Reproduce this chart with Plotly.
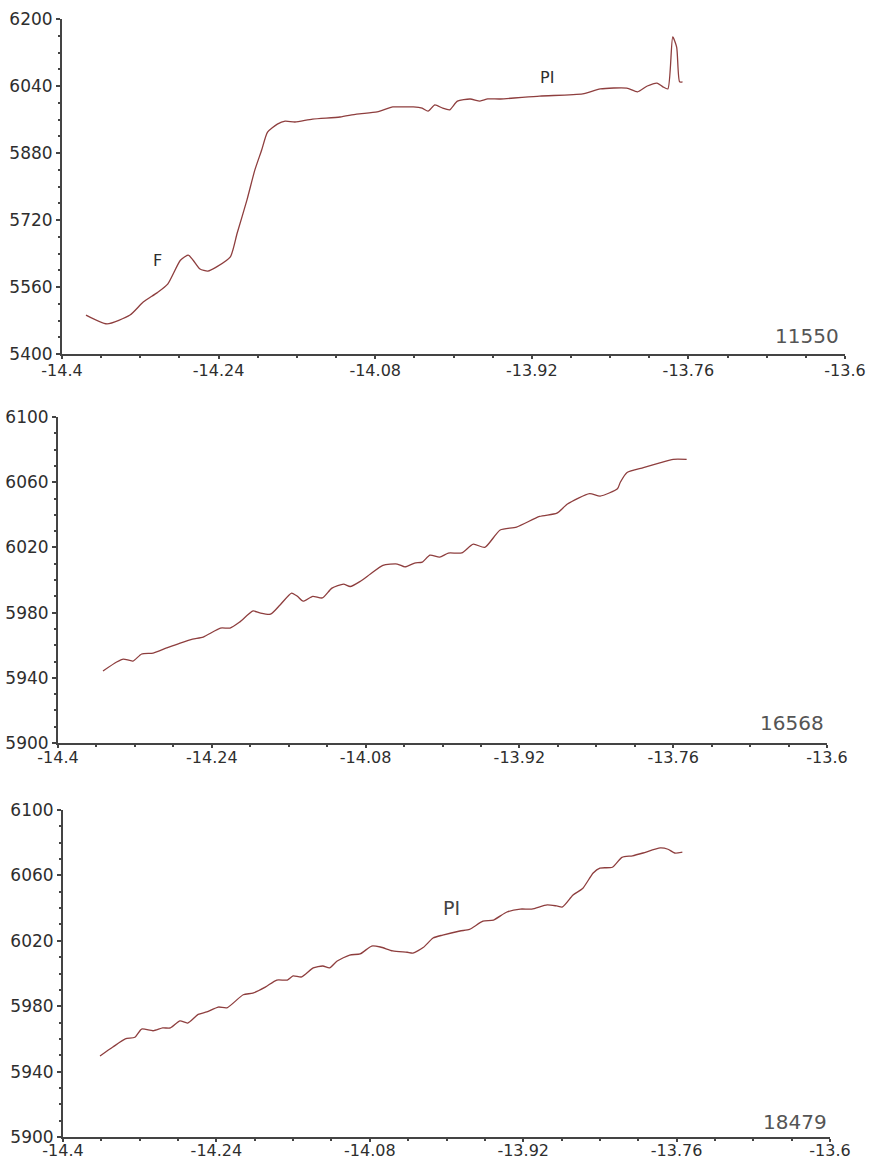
import plotly.graph_objects as go

# ---- data: panel 1 (11550) ----
x1 = [-14.3755, -14.354, -14.3305, -14.317, -14.303, -14.292, -14.279, -14.271, -14.266,
      -14.259, -14.251, -14.242, -14.228, -14.221, -14.211, -14.203, -14.196, -14.190,
      -14.180, -14.172, -14.162, -14.144, -14.116, -14.099, -14.078, -14.062, -14.052,
      -14.041, -14.032, -14.026, -14.019, -14.011, -14.004, -13.996, -13.983, -13.973,
      -13.965, -13.952, -13.912, -13.868, -13.850, -13.823, -13.812, -13.802, -13.792,
      -13.786, -13.781, -13.776, -13.772, -13.769, -13.766]
y1 = [5493, 5472, 5493, 5524, 5546, 5567, 5624, 5636, 5624,
      5603, 5598, 5608, 5632, 5689, 5768, 5839, 5887, 5930,
      5949, 5956, 5954, 5961, 5966, 5973, 5978, 5990, 5990,
      5990, 5987, 5980, 5995, 5987, 5983, 6004, 6009, 6004,
      6009, 6009, 6016, 6021, 6033, 6035, 6026, 6040, 6047,
      6038, 6033, 6157, 6133, 6050, 6050]

# ---- data: panel 2 (16568) ----
x2 = [-14.3532, -14.339, -14.332, -14.322, -14.313, -14.301, -14.287, -14.273, -14.260,
      -14.249, -14.231, -14.221, -14.211, -14.197, -14.190, -14.179, -14.169, -14.157,
      -14.151, -14.145, -14.135, -14.125, -14.115, -14.103, -14.096, -14.086, -14.075,
      -14.062, -14.047, -14.039, -14.029, -14.021, -14.013, -14.003, -13.994, -13.980,
      -13.968, -13.956, -13.940, -13.923, -13.899, -13.881, -13.870, -13.847, -13.836,
      -13.818, -13.815, -13.808, -13.791, -13.773, -13.760, -13.746]
y2 = [5944.2, 5949.7, 5951.5, 5950.3, 5954.6, 5955.2, 5958.3, 5961.3, 5963.8,
      5965.0, 5970.5, 5970.5, 5974.2, 5981.0, 5979.8, 5979.0, 5984.7, 5992.0,
      5990.0, 5987.0, 5990.0, 5989.0, 5995.0, 5997.5, 5996.0, 5999.0, 6003.7,
      6009.0, 6009.8, 6008.0, 6010.4, 6011.0, 6015.3, 6014.0, 6016.5, 6016.6,
      6022.0, 6020.0, 6030.7, 6032.5, 6039.0, 6041.0, 6046.6, 6053.0, 6051.5,
      6056.0, 6060.0, 6066.0, 6069.0, 6072.0, 6074.0, 6074.0]

# ---- data: panel 3 (18479) ----
x3 = [-14.3614, -14.348, -14.335, -14.325, -14.318, -14.306, -14.296, -14.288, -14.278,
      -14.270, -14.259, -14.250, -14.238, -14.229, -14.212, -14.202, -14.189, -14.177,
      -14.166, -14.160, -14.151, -14.139, -14.129, -14.122, -14.114, -14.101, -14.090,
      -14.078, -14.069, -14.056, -14.041, -14.035, -14.024, -14.014, -14.004, -13.986,
      -13.976, -13.962, -13.951, -13.937, -13.923, -13.911, -13.895, -13.885, -13.879,
      -13.868, -13.858, -13.847, -13.840, -13.827, -13.817, -13.806, -13.795, -13.777,
      -13.769, -13.762, -13.754]
y3 = [5949.5, 5955.0, 5960.0, 5961.0, 5966.0, 5965.0, 5966.7, 5966.7, 5971.0,
      5969.7, 5975.0, 5976.5, 5979.5, 5979.0, 5987.0, 5988.0, 5991.7, 5996.0,
      5996.0, 5998.5, 5997.9, 6003.4, 6004.6, 6003.4, 6007.6, 6011.3, 6012.0,
      6016.8, 6016.2, 6013.8, 6013.0, 6012.5, 6016.0, 6021.7, 6023.5, 6026.0,
      6027.0, 6032.0, 6032.7, 6037.6, 6039.4, 6039.4, 6042.0, 6041.3, 6040.7,
      6048.0, 6052.0, 6061.5, 6064.5, 6065.0, 6071.0, 6072.0, 6073.7, 6076.8,
      6076.0, 6073.7, 6074.3]

x_ticks = [-14.4, -14.24, -14.08, -13.92, -13.76, -13.6]
x_ticktext = ["-14.4", "-14.24", "-14.08", "-13.92", "-13.76", "-13.6"]
y_ticks_top = [5400, 5560, 5720, 5880, 6040, 6200]
y_ticks_low = [5900, 5940, 5980, 6020, 6060, 6100]
sample_ids = ["11550", "16568", "18479"]

LINE = "#8e3e3e"
AX = "#444444"
TXT = "#2e2e2e"
FONT = "DejaVu Sans"

fig = go.Figure()
for xs, ys, xa, ya in [(x1, y1, "x", "y"), (x2, y2, "x2", "y2"), (x3, y3, "x3", "y3")]:
    fig.add_trace(go.Scatter(x=xs, y=ys, mode="lines",
                             line=dict(color=LINE, width=1.3, shape="spline", smoothing=0.6),
                             xaxis=xa, yaxis=ya, showlegend=False))

W, H = 869, 1161


def xax(d0, d1, anchor, standoff):
    return dict(domain=[d0 / W, d1 / W], anchor=anchor, range=[-14.4, -13.6],
                tickvals=x_ticks, ticktext=x_ticktext, showgrid=False, zeroline=False,
                showline=True, linecolor=AX, linewidth=2, ticks="outside", ticklen=3,
                tickcolor=AX, tickwidth=1.5, tickfont=dict(family=FONT, size=16, color=TXT),
                ticklabelstandoff=standoff,
                minor=dict(ticks="outside", ticklen=2, dtick=0.04, tickcolor=AX, tick0=-14.4),
                automargin=False, fixedrange=True)


def yax(top_px, bot_px, anchor, rng, ticks, mdt):
    return dict(domain=[1 - bot_px / H, 1 - top_px / H], anchor=anchor, range=rng,
                tickvals=ticks, showgrid=False, zeroline=False,
                showline=True, linecolor=AX, linewidth=2, ticks="outside", ticklen=4,
                tickcolor=AX, tickwidth=1.5, tickfont=dict(family=FONT, size=17, color=TXT),
                minor=dict(ticks="outside", ticklen=2, dtick=mdt, tickcolor=AX, tick0=rng[0]),
                automargin=False, fixedrange=True)


fig.update_layout(
    width=W, height=H,
    margin=dict(l=0, r=0, t=0, b=0, pad=0),
    paper_bgcolor="white", plot_bgcolor="white",
    xaxis=xax(62, 845, "y", -2),
    yaxis=yax(19, 354, "x", [5400, 6200], y_ticks_top, 40),
    xaxis2=xax(58, 827, "y2", -4),
    yaxis2=yax(417, 743, "x2", [5900, 6100], y_ticks_low, 10),
    xaxis3=xax(63, 830, "y3", -5),
    yaxis3=yax(810, 1137, "x3", [5900, 6100], y_ticks_low, 10),
)

ann = [
    dict(text="F", x=-14.302, y=5624, xref="x", yref="y", font=dict(family=FONT, size=16, color=TXT)),
    dict(text="PI", x=-13.9045, y=6061, xref="x", yref="y", font=dict(family=FONT, size=16, color=TXT)),
    dict(text="PI", x=-13.9943, y=6040, xref="x3", yref="y3", font=dict(family=FONT, size=19, color="#444")),
    dict(text=sample_ids[0], x=-13.6388, y=5443, xref="x", yref="y", font=dict(family=FONT, size=20, color="#555")),
    dict(text=sample_ids[1], x=-13.6364, y=5912, xref="x2", yref="y2", font=dict(family=FONT, size=20, color="#555")),
    dict(text=sample_ids[2], x=-13.6365, y=5909, xref="x3", yref="y3", font=dict(family=FONT, size=20, color="#555")),
]
for a in ann:
    a.update(showarrow=False, xanchor="center", yanchor="middle")
fig.update_layout(annotations=ann)

fig.write_html("out.html")
